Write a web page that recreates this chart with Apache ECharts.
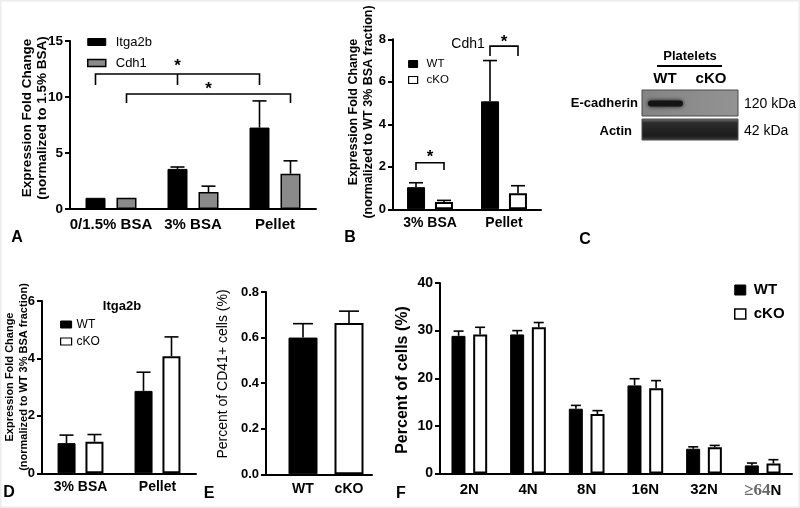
<!DOCTYPE html>
<html><head><meta charset="utf-8">
<script src="https://cdn.jsdelivr.net/npm/echarts@6/dist/echarts.min.js"></script>
<style>html,body{margin:0;padding:0;background:#fff}#c{width:800px;height:508px}</style>
</head><body><div id="c"></div>
<script>
const FONT = 'Liberation Sans, Arial, Helvetica, sans-serif';

// ---------------- data ----------------
// Panel A
const catA = ['0/1.5% BSA', '3% BSA', 'Pellet'];
const itga2bA = [1.0, 3.58, 7.27];
const itga2bASem = [0, 0.17, 2.38];
const cdh1A = [1.0, 1.52, 3.15];
const cdh1ASem = [0, 0.52, 1.15];
// Panel B (Cdh1)
const catB = ['3% BSA', 'Pellet'];
const wtB = [1.04, 5.08];
const wtBSem = [0.21, 1.92];
const koB = [0.34, 0.75];
const koBSem = [0.08, 0.36];
// Panel D (Itga2b)
const catD = ['3% BSA', 'Pellet'];
const wtD = [1.05, 2.87];
const wtDSem = [0.28, 0.65];
const koD = [1.1, 4.08];
const koDSem = [0.25, 0.67];
// Panel E
const catE = ['WT', 'cKO'];
const cd41E = [0.60, 0.664];
const cd41ESem = [0.061, 0.052];
// Panel F
const catF = ['2N', '4N', '8N', '16N', '32N', '≥64N'];
const wtF = [28.9, 29.2, 13.6, 18.5, 5.2, 1.7];
const wtFSem = [1.0, 0.8, 0.7, 1.4, 0.4, 0.5];
const koF = [29.2, 30.7, 12.5, 17.9, 5.5, 2.1];
const koFSem = [1.5, 1.0, 0.7, 1.6, 0.4, 0.8];
// significance brackets: [fromCat, fromSeries, toCat, toSeries, top, dropEnd, starY, midCat]
const bracketsA = [[0, 0, 2, 0, 12.05, 11.07, 13.1, 1], [0, 1, 2, 1, 10.27, 9.46, 11.07, -1]];
const bracketsB = [[0, 0, 0, 1, 2.19, 1.85, 2.64, -1], [1, 0, 1, 1, 7.68, 7.21, 8.06, -1]];

// ---------------- helpers ----------------
const AX = {color: '#000', width: 2};
function xCat(gi, data, fontSize, margin, extra) {
  return Object.assign({
    type: 'category', gridIndex: gi, data: data,
    axisLine: {lineStyle: AX},
    axisTick: {alignWithLabel: true, length: 5, lineStyle: AX},
    axisLabel: {color: '#000', fontWeight: 'bold', fontSize: fontSize, fontFamily: FONT, margin: margin, interval: 0}
  }, extra || {});
}
function yVal(gi, max, interval, fontSize, extra) {
  return Object.assign({
    type: 'value', gridIndex: gi, min: 0, max: max, interval: interval,
    axisLine: {show: true, lineStyle: AX},
    axisTick: {show: true, length: 5, lineStyle: AX},
    splitLine: {show: false},
    axisLabel: {color: '#000', fontWeight: 'bold', fontSize: fontSize, fontFamily: FONT, margin: 7}
  }, extra || {});
}
function errSeries(gi, means, sems, offset, capW) {
  return {
    type: 'custom', xAxisIndex: gi, yAxisIndex: gi, z: 4, silent: true, clip: false,
    data: means.map((m, i) => [i, m, m + sems[i]]),
    renderItem: function (params, api) {
      if (!(api.value(2) > api.value(1))) return null;
      const lo = api.coord([api.value(0), api.value(1)]);
      const hi = api.coord([api.value(0), api.value(2)]);
      const x = lo[0] + offset;
      return {type: 'group', children: [
        {type: 'line', shape: {x1: x, y1: lo[1], x2: x, y2: hi[1]}, style: {stroke: '#000', lineWidth: 1.6}},
        {type: 'line', shape: {x1: x - capW / 2, y1: hi[1], x2: x + capW / 2, y2: hi[1]}, style: {stroke: '#000', lineWidth: 1.6}}
      ]};
    }
  };
}
function bracketSeries(gi, list, offsets) {
  return {
    type: 'custom', xAxisIndex: gi, yAxisIndex: gi, z: 4, silent: true, clip: false,
    data: list.map(b => [b[0], b[4]]),
    renderItem: function (params, api) {
      const b = list[params.dataIndex];
      const x1 = api.coord([b[0], 0])[0] + offsets[b[1]];
      const x2 = api.coord([b[2], 0])[0] + offsets[b[3]];
      const yT = api.coord([0, b[4]])[1];
      const yD = api.coord([0, b[5]])[1];
      const yS = api.coord([0, b[6]])[1];
      const ch = [
        {type: 'polyline', shape: {points: [[x1, yD], [x1, yT], [x2, yT], [x2, yD]]}, style: {stroke: '#000', lineWidth: 1.6, fill: null}},
        {type: 'text', x: (x1 + x2) / 2, y: yS + 4, style: {text: '*', fontSize: 17, fontWeight: 'bold', fontFamily: FONT, fill: '#000', align: 'center', verticalAlign: 'middle', textAlign: 'center', textVerticalAlign: 'middle'}}
      ];
      if (b[7] >= 0) {
        const xm = api.coord([b[7], 0])[0] + offsets[b[1]];
        ch.push({type: 'line', shape: {x1: xm, y1: yT, x2: xm, y2: yD}, style: {stroke: '#000', lineWidth: 1.6}});
      }
      return {type: 'group', children: ch};
    }
  };
}
function bar(gi, name, data, bw, gap, style) {
  return {type: 'bar', name: name, xAxisIndex: gi, yAxisIndex: gi, data: data, barWidth: bw, barGap: gap, itemStyle: style, z: 2};
}
const BLACK = {color: '#000', borderColor: '#000', borderWidth: 1};
const GRAY = {color: '#8a8a8a', borderColor: '#000', borderWidth: 1.5};
const WHITE = {color: '#fff', borderColor: '#000', borderWidth: 2};

function txt(x, y, text, size, weight, align, rot, extra) {
  return {type: 'text', x: x, y: y, rotation: rot || 0, silent: true, style: Object.assign({
    text: text, fontSize: size, fontWeight: weight, fontFamily: FONT, fill: '#000',
    align: align, verticalAlign: 'middle', textAlign: align, textVerticalAlign: 'middle'}, extra || {})};
}
const R90 = Math.PI / 2;

const offA = [-15.5, 15.5], offB = [-14, 14], offD = [-14, 14], offF = [-10.75, 10.75];

const option = {
  animation: false,
  backgroundColor: '#fff',
  grid: [
    {left: 70, top: 41, width: 246, height: 168, outerBoundsMode: 'none'},
    {left: 393, top: 39.3, width: 148, height: 170, outerBoundsMode: 'none'},
    {left: 42, top: 301, width: 154, height: 172.3, outerBoundsMode: 'none'},
    {left: 280, top: 292, width: 92, height: 182.3, outerBoundsMode: 'none'},
    {left: 266, top: 292, width: 106, height: 182.3, outerBoundsMode: 'none'},
    {left: 440, top: 283, width: 352, height: 190.5, outerBoundsMode: 'none'}
  ],
  xAxis: [
    xCat(0, catA, 15, 8),
    xCat(1, catB, 14, 7),
    xCat(2, catD, 14, 7),
    xCat(3, catE, 14, 8, {axisLine: {show: false}}),
    {type: 'category', gridIndex: 4, data: catE, axisLine: {lineStyle: AX}, axisTick: {show: false}, axisLabel: {show: false}},
    xCat(5, catF, 15, 9, {axisLabel: {color: '#000', fontWeight: 'bold', fontSize: 15, fontFamily: FONT, margin: 9, interval: 0,
      formatter: v => v.charAt(0) === '≥' ? '{s|' + v.slice(0, -1) + '}{b|' + v.slice(-1) + '}' : v,
      rich: {s: {fontFamily: 'Liberation Serif, serif', fontSize: 17, color: '#666'}, b: {fontFamily: FONT, fontWeight: 'bold', fontSize: 15, color: '#000'}}}})
  ],
  yAxis: [
    yVal(0, 15, 5, 13.5),
    yVal(1, 8, 2, 13),
    yVal(2, 6, 2, 13),
    yVal(3, 0.8, 0.2, 13, {offset: 14, axisLabel: {color: '#000', fontWeight: 'bold', fontSize: 13, fontFamily: FONT, margin: 7, formatter: v => v.toFixed(1)}}),
    {type: 'value', gridIndex: 4, min: 0, max: 0.8, show: false},
    yVal(5, 40, 10, 14)
  ],
  title: [
    {text: 'Cdh1', left: 463, top: 32, textAlign: 'center', textStyle: {fontSize: 14, fontWeight: 'normal', fontFamily: FONT, color: '#000'}},
    {text: 'Itga2b', left: 117, top: 295, textAlign: 'center', textStyle: {fontSize: 13, fontWeight: 'bold', fontFamily: FONT, color: '#000'}}
  ],
  legend: [
    {left: 82, top: 30, orient: 'vertical', icon: 'rect', itemWidth: 18, itemHeight: 7, itemGap: 7, selectedMode: false,
      textStyle: {fontSize: 13, fontFamily: FONT, color: '#000', lineHeight: 14, padding: [0, 0, 0, 5]},
      data: [{name: 'Itga2b', itemStyle: BLACK}, {name: 'Cdh1', itemStyle: GRAY}]},
    {left: 403, top: 53, orient: 'vertical', icon: 'rect', itemWidth: 9, itemHeight: 7, itemGap: 4, selectedMode: false,
      textStyle: {fontSize: 11.5, fontFamily: FONT, color: '#000', lineHeight: 12, padding: [0, 0, 0, 4]},
      data: [{name: 'WT', itemStyle: BLACK}, {name: 'cKO', itemStyle: {color: '#fff', borderColor: '#000', borderWidth: 1.2}}]},
    {left: 55, top: 313, orient: 'vertical', icon: 'rect', itemWidth: 11, itemHeight: 7, itemGap: 4, selectedMode: false,
      textStyle: {fontSize: 12, fontFamily: FONT, color: '#000', lineHeight: 13},
      data: [{name: 'WT', itemStyle: BLACK}, {name: 'cKO', itemStyle: {color: '#fff', borderColor: '#000', borderWidth: 1.2}}]},
    {left: 729, top: 277, orient: 'vertical', icon: 'rect', itemWidth: 11, itemHeight: 10, itemGap: 8, selectedMode: false,
      textStyle: {fontSize: 15, fontWeight: 'bold', fontFamily: FONT, color: '#000', lineHeight: 16, padding: [0, 0, 0, 3]},
      data: [{name: 'WT', itemStyle: BLACK}, {name: 'cKO', itemStyle: {color: '#fff', borderColor: '#000', borderWidth: 1.5}}]}
  ],
  series: [
    bar(0, 'Itga2b', itga2bA, 20, '55%', BLACK),
    bar(0, 'Cdh1', cdh1A, 20, '55%', GRAY),
    errSeries(0, itga2bA, itga2bASem, offA[0], 14),
    errSeries(0, cdh1A, cdh1ASem, offA[1], 14),
    bracketSeries(0, bracketsA, offA),

    bar(1, 'WT', wtB, 18, '55%', BLACK),
    bar(1, 'cKO', koB, 18, '55%', WHITE),
    errSeries(1, wtB, wtBSem, offB[0], 14),
    errSeries(1, koB, koBSem, offB[1], 14),
    bracketSeries(1, bracketsB, offB),

    bar(2, 'WT', wtD, 18, '55%', BLACK),
    bar(2, 'cKO', koD, 18, '55%', WHITE),
    errSeries(2, wtD, wtDSem, offD[0], 14),
    errSeries(2, koD, koDSem, offD[1], 14),

    {type: 'bar', name: 'CD41+', xAxisIndex: 3, yAxisIndex: 3, barWidth: 29, z: 2,
      data: cd41E.map((v, i) => ({value: v, itemStyle: i === 0 ? BLACK : WHITE}))},
    errSeries(3, cd41E, cd41ESem, 0, 20),

    bar(5, 'WT', wtF, 14, '55%', BLACK),
    bar(5, 'cKO', koF, 14, '55%', WHITE),
    errSeries(5, wtF, wtFSem, offF[0], 10),
    errSeries(5, koF, koFSem, offF[1], 10)
  ],
  graphic: [
    {type: 'rect', silent: true, shape: {x: 0.5, y: 0.5, width: 799, height: 507}, style: {fill: null, stroke: '#ececec', lineWidth: 2}},
    // y-axis titles
    txt(34.5, 118, 'Expression Fold Change\n(normalized to 1.5% BSA)', 13.5, 'bold', 'center', R90, {lineHeight: 15}),
    txt(361, 112, 'Expression Fold Change\n(normalized to WT 3% BSA fraction)', 12.5, 'bold', 'center', R90, {lineHeight: 15}),
    txt(17, 377, 'Expression Fold Change\n(normalized to WT 3% BSA fraction)', 11, 'bold', 'center', R90, {lineHeight: 13.5}),
    txt(223, 374, 'Percent of CD41+ cells (%)', 14, 'normal', 'center', R90),
    txt(403, 380, 'Percent of cells (%)', 16, 'bold', 'center', R90),
    // panel letters
    txt(17, 238, 'A', 16, 'bold', 'center'),
    txt(350, 238, 'B', 16, 'bold', 'center'),
    txt(585, 240, 'C', 16, 'bold', 'center'),
    txt(9, 493, 'D', 16, 'bold', 'center'),
    txt(209, 494, 'E', 16, 'bold', 'center'),
    txt(401, 494, 'F', 16, 'bold', 'center'),
    // panel C western blot
    txt(690, 56, 'Platelets', 13, 'bold', 'center'),
    {type: 'line', silent: true, shape: {x1: 657, y1: 66, x2: 722, y2: 66}, style: {stroke: '#000', lineWidth: 2}},
    txt(665, 79, 'WT', 15, 'bold', 'center'),
    txt(711, 79, 'cKO', 15, 'bold', 'center'),
    {type: 'rect', silent: true, shape: {x: 642, y: 90, width: 96, height: 26}, style: {fill: {type: 'linear', x: 0, y: 0, x2: 1, y2: 0, colorStops: [{offset: 0, color: '#848484'}, {offset: 1, color: '#939393'}]}, stroke: '#4a4a4a', lineWidth: 1}},
    {type: 'rect', silent: true, shape: {x: 648, y: 100.5, width: 35, height: 6, r: 3}, style: {fill: '#141414', shadowBlur: 4, shadowColor: 'rgba(0,0,0,0.85)'}},
    {type: 'rect', silent: true, shape: {x: 642, y: 119, width: 96, height: 21}, style: {fill: {type: 'linear', x: 0, y: 0, x2: 0, y2: 1, colorStops: [{offset: 0, color: '#777'}, {offset: 0.2, color: '#2b2b2b'}, {offset: 0.8, color: '#1c1c1c'}, {offset: 1, color: '#444'}]}, stroke: '#4a4a4a', lineWidth: 1}},
    txt(638, 103, 'E-cadherin', 13, 'bold', 'right'),
    txt(632, 131, 'Actin', 13, 'bold', 'right'),
    txt(744, 104, '120 kDa', 14, 'normal', 'left'),
    txt(744, 131, '42 kDa', 14, 'normal', 'left')
  ]
};
const chart = echarts.init(document.getElementById('c'), null, {renderer: 'canvas'});
chart.setOption(option);
</script></body></html>
